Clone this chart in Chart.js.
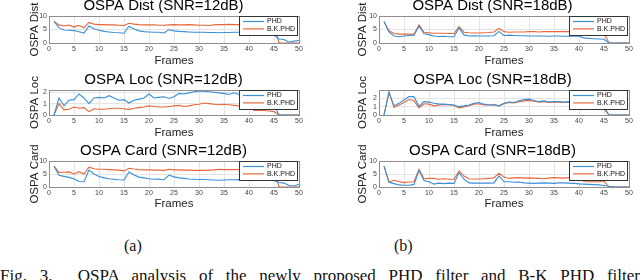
<!DOCTYPE html>
<html>
<head>
<meta charset="utf-8">
<script src="https://cdn.jsdelivr.net/npm/chart.js@4.4.0/dist/chart.umd.min.js"></script>
<style>
  html, body { margin: 0; padding: 0; background: #fff; width: 640px; height: 280px; overflow: hidden; position: relative; }
  canvas { position: absolute; }
  .cap { position: absolute; font-family: "Liberation Serif", "Times New Roman", serif; font-size: 16px; line-height: 16px; color: #111; white-space: nowrap; }
</style>
</head>
<body>
<canvas id="dist12" width="292" height="71" style="left:28px;top:-3px"></canvas>
<canvas id="loc12" width="292" height="69" style="left:28px;top:71px"></canvas>
<canvas id="card12" width="292" height="69" style="left:28px;top:142px"></canvas>
<canvas id="dist18" width="296" height="71" style="left:356px;top:-3px"></canvas>
<canvas id="loc18" width="296" height="69" style="left:356px;top:71px"></canvas>
<canvas id="card18" width="296" height="69" style="left:356px;top:142px"></canvas>
<div class="cap" style="left:124px;top:238px">(a)</div>
<div class="cap" style="left:394px;top:238px">(b)</div>
<div class="cap" style="left:0;top:268px;width:640px;font-size:17px;text-align:justify;text-align-last:justify">Fig. 3.&nbsp; OSPA analysis of the newly proposed PHD filter and B-K PHD filter</div>
<script>
// frames and tick labels
const frames = [1,2,3,4,5,6,7,8,9,10,11,12,13,14,15,16,17,18,19,20,21,22,23,24,25,
                26,27,28,29,30,31,32,33,34,35,36,37,38,39,40,41,42,43,44,45,46,47,48,49,50];
const xTicks = [0,5,10,15,20,25,30,35,40,45,50];
const yTicksTen = [0,5,10];
const yTicksLoc = [0,1,2];

// SNR = 12dB
const dist12Phd = [8.0,5.6,4.8,4.7,4.6,4.2,3.7,6.3,5.3,4.7, 4.3,4.1,3.9,3.8,3.6,6.2,5.2,4.5,4.2,4.1,
                   4.0,4.0,3.7,5.0,4.5,4.3,4.2,4.1,4.0,4.0, 4.0,3.9,3.9,3.8,3.9,3.9,4.0,4.0,4.1,4.2,
                   4.2,4.1,4.2,4.1,3.0,1.5,1.3,0.3,0.7,0.9];
const dist12Bk  = [8.0,6.7,6.3,6.6,5.9,6.5,5.6,7.6,7.0,6.8, 6.8,6.7,6.7,6.6,6.5,7.3,7.0,6.8,6.7,6.7,
                   6.7,6.6,6.6,6.7,6.8,6.7,6.7,6.8,6.7,6.6, 6.6,6.5,6.7,6.8,6.8,6.9,6.8,6.8,6.8,6.8,
                   6.8,6.8,6.8,6.8,6.8,0,0,0,0,0];
const loc12Phd  = [0,1.5,0.8,1.3,1.35,1.85,1.5,1.0,1.5,1.55, 1.5,1.7,1.5,1.3,1.35,1.05,1.3,1.4,1.5,1.85,
                   1.5,1.55,1.6,1.45,1.6,1.9,1.85,1.95,2.05,2.1, 2.1,2.05,2.0,1.95,1.9,1.8,1.95,1.8,1.7,1.6,
                   1.5,1.5,1.5,1.4,0.9,0,0,0,0,0];
const loc12Bk   = [0,1.0,0.45,0.5,0.7,0.6,0.65,0.3,0.55,0.5, 0.5,0.55,0.6,0.6,0.55,0.5,0.6,0.65,0.7,0.8,
                   0.75,0.7,0.7,0.75,0.8,0.85,0.75,0.8,0.9,0.95, 1.05,1.0,0.95,0.9,0.95,0.9,0.85,0.8,0.8,0.8,
                   0.4,0.4,0.4,0.35,0.3,0,0,0,0,0];
const card12Phd = [8.0,4.5,4.1,3.7,3.2,2.1,2.0,6.5,5.0,4.0, 3.5,3.2,3.0,2.8,2.7,5.8,4.6,3.8,3.5,3.2,
                   3.0,3.1,2.8,4.6,3.9,3.5,3.3,3.1,3.0,2.9, 2.9,2.8,2.7,2.6,2.7,2.8,2.8,2.9,2.8,2.9,
                   2.8,2.8,2.7,2.7,2.5,1.7,1.5,0.6,0.4,1.0];
const card12Bk  = [8.0,5.6,5.7,5.8,5.0,5.9,5.0,7.6,7.0,6.8, 6.8,6.7,6.6,6.5,6.2,7.2,6.9,6.7,6.6,6.6,
                   6.5,6.5,6.4,6.8,6.6,6.6,6.5,6.5,6.4,6.4, 6.4,6.5,6.6,6.8,6.7,6.7,6.7,6.7,6.7,6.7,
                   6.7,6.7,6.7,6.7,6.7,0,0,0,0,0];

// SNR = 18dB
const dist18Phd = [8.0,4.0,2.6,2.3,2.6,2.8,2.9,6.3,3.4,3.1, 2.6,2.4,2.5,2.3,2.3,5.6,3.0,2.6,2.7,2.6,
                   2.6,2.6,2.7,4.3,2.8,2.9,2.8,2.7,2.7,2.6, 2.6,2.6,2.6,2.5,2.6,2.6,2.5,2.5,2.6,2.5,
                   1.9,1.7,1.6,1.5,1.4,0,0,0,0,0];
const dist18Bk  = [8.0,4.5,3.5,3.3,3.3,3.3,3.2,6.7,4.0,3.8, 3.6,3.6,3.6,3.5,3.5,6.1,4.0,3.8,3.7,3.7,
                   3.8,3.9,4.1,5.4,4.2,4.0,4.1,4.1,4.1,4.2, 4.2,4.1,4.2,4.2,4.2,4.2,4.2,4.2,4.2,4.2,
                   4.0,4.0,3.9,3.9,3.8,0,0,0,0,0];
const loc18Phd  = [0,2.7,1.1,1.4,1.8,2.2,2.2,1.05,1.6,1.55, 1.4,1.3,1.3,1.25,1.2,1.0,1.1,1.2,1.4,1.5,
                   1.3,1.2,1.25,1.1,1.4,1.55,1.5,1.7,1.85,1.9, 1.75,1.6,1.7,1.55,1.6,1.6,1.55,1.6,1.5,1.4,
                   1.3,1.2,1.1,1.0,0.95,0,0,0,0,0];
const loc18Bk   = [0,2.75,0.9,1.2,1.5,1.85,1.7,0.85,1.35,1.3, 1.1,1.2,1.25,1.25,1.15,0.85,0.95,1.1,1.3,1.35,
                   1.2,1.2,1.2,1.1,1.35,1.5,1.45,1.6,1.7,1.75, 1.65,1.55,1.6,1.5,1.55,1.55,1.5,1.5,1.45,1.2,
                   0.75,0.75,0.75,0.75,0.7,0,0,0,0,0];
const card18Phd = [8.0,1.8,1.3,0.8,0.7,0.7,1.0,6.3,2.5,2.0, 1.1,1.5,1.3,1.5,1.4,5.5,3.0,1.6,1.5,1.5,
                   1.5,1.5,1.6,4.3,2.0,2.0,1.8,1.9,1.6,1.5, 1.4,1.5,1.6,1.5,1.4,1.6,1.6,1.5,1.4,1.2,
                   1.1,1.0,0.9,0.8,0.6,0.3,0.1,0,0,0];
const card18Bk  = [8.0,1.9,2.6,2.1,1.7,1.9,2.0,6.8,3.2,3.3, 3.3,3.0,3.2,3.0,3.0,6.2,4.2,3.2,3.1,3.1,
                   3.2,3.3,3.6,5.3,3.8,3.3,3.5,3.6,3.4,3.5, 3.4,3.3,3.2,3.4,3.6,3.5,3.4,3.6,3.7,3.6,
                   2.1,2.0,2.0,2.0,2.3,0,0,0,0,0];

const matBlue = '#3a8fd6';
const matOrange = '#e6683a';
const sansFont = '"Liberation Sans", Arial, Helvetica, sans-serif';
Chart.defaults.font.family = sansFont;

// axes box + matlab-like legend in the top right corner
const boxLegend = {
  id: 'boxLegend',
  afterDatasetsDraw(chart) {
    const ctx = chart.ctx;
    const a = chart.chartArea;
    ctx.save();
    ctx.strokeStyle = '#8e8e8e';
    ctx.lineWidth = 1;
    const l = Math.round(a.left) + 0.5, t = Math.round(a.top) + 0.5;
    ctx.strokeRect(l, t, Math.round(a.right) - Math.round(a.left), Math.round(a.bottom) - Math.round(a.top));

    const w = 58, h = 19;
    const lx = Math.round(a.right) - 2 - w, ly = Math.round(a.top);
    ctx.fillStyle = '#fff';
    ctx.fillRect(lx, ly, w, h);
    ctx.strokeStyle = '#333';
    ctx.strokeRect(lx + 0.5, ly + 0.5, w, h);
    ctx.font = '7px ' + sansFont;
    ctx.textBaseline = 'middle';
    chart.data.datasets.forEach((ds, i) => {
      const y = ly + 5.5 + i * 7.4;
      ctx.strokeStyle = ds.borderColor;
      ctx.lineWidth = 1.2;
      ctx.beginPath();
      ctx.moveTo(lx + 4, y);
      ctx.lineTo(lx + 25, y);
      ctx.stroke();
      ctx.fillStyle = '#111';
      ctx.fillText(ds.label, lx + 28, y);
    });
    ctx.restore();
  }
};

function makeChart(id, title, yLabel, phd, bk, yMax, yTicks, yWidth, padRight, xHeight) {
  const pts = arr => frames.map((f, i) => ({ x: f, y: arr[i] }));
  return new Chart(id, {
    type: 'line',
    data: {
      datasets: [
        { label: 'PHD', data: pts(phd), borderColor: matBlue, borderWidth: 1.1, pointRadius: 0, tension: 0 },
        { label: 'B.K.PHD', data: pts(bk), borderColor: matOrange, borderWidth: 1.1, pointRadius: 0, tension: 0 }
      ]
    },
    options: {
      responsive: false,
      animation: false,
      layout: { padding: { left: 0, right: padRight, top: 0, bottom: 0 } },
      plugins: {
        legend: { display: false },
        tooltip: { enabled: false },
        title: {
          display: true, text: title, color: '#000',
          font: { size: 15, weight: 'normal', family: sansFont },
          padding: { top: 0, bottom: 1 }
        }
      },
      scales: {
        x: {
          type: 'linear', min: 0, max: 50,
          afterBuildTicks: s => { s.ticks = xTicks.map(v => ({ value: v })); },
          afterFit: s => { s.height = xHeight; },
          grid: { color: '#e4e4e4', drawTicks: false },
          border: { display: false },
          ticks: { font: { size: 7 }, color: '#444', padding: 2, maxRotation: 0, autoSkip: false },
          title: { display: true, text: 'Frames', color: '#222', font: { size: 11.5 }, padding: 0 }
        },
        y: {
          min: 0, max: yMax,
          afterBuildTicks: s => { s.ticks = yTicks.map(v => ({ value: v })); },
          afterFit: s => { s.width = yWidth; },
          grid: { color: '#e4e4e4', drawTicks: false },
          border: { display: false },
          ticks: { font: { size: 7 }, color: '#444', padding: 2 },
          title: { display: true, text: yLabel, color: '#222', font: { size: 11.5 }, padding: 0 }
        }
      }
    },
    plugins: [boxLegend]
  });
}

makeChart('dist12', 'OSPA Dist (SNR=12dB)', 'OSPA Dist', dist12Phd, dist12Bk, 10, yTicksTen, 21, 21, 25);
makeChart('loc12', 'OSPA Loc (SNR=12dB)', 'OSPA Loc', loc12Phd, loc12Bk, 2.2, yTicksLoc, 21, 21, 25);
makeChart('card12', 'OSPA Card (SNR=12dB)', 'OSPA Card', card12Phd, card12Bk, 10, yTicksTen, 21, 21, 24);
makeChart('dist18', 'OSPA Dist (SNR=18dB)', 'OSPA Dist', dist18Phd, dist18Bk, 10, yTicksTen, 23, 23, 25);
makeChart('loc18', 'OSPA Loc (SNR=18dB)', 'OSPA Loc', loc18Phd, loc18Bk, 3, yTicksLoc, 23, 23, 25);
makeChart('card18', 'OSPA Card (SNR=18dB)', 'OSPA Card', card18Phd, card18Bk, 10, yTicksTen, 23, 23, 24);
</script>
</body>
</html>
